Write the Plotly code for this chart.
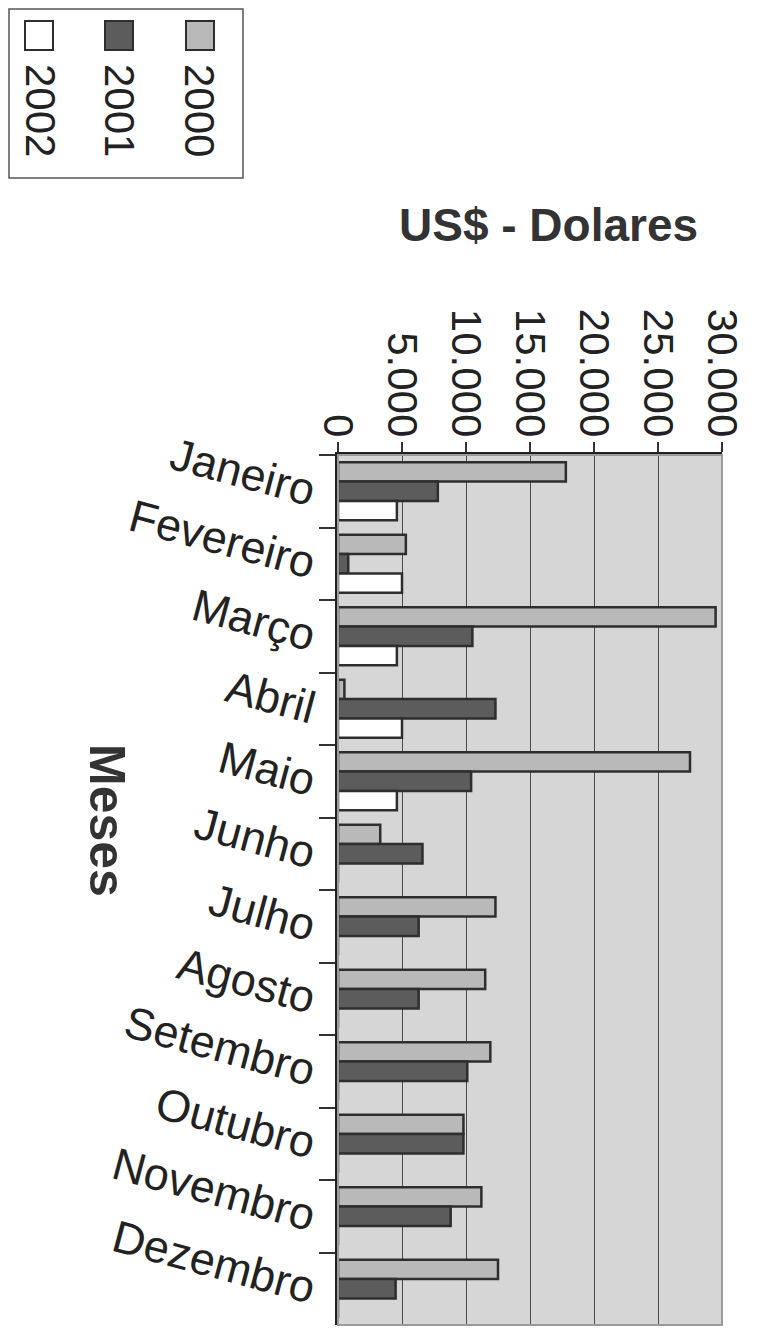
import plotly.graph_objects as go

months = ["Janeiro", "Fevereiro", "Março", "Abril", "Maio", "Junho", "Julho",
          "Agosto", "Setembro", "Outubro", "Novembro", "Dezembro"]
v2000 = [17800, 5300, 29500, 500, 27500, 3300, 12300, 11500, 11900, 9800, 11200, 12500]
v2001 = [7800, 800, 10500, 12300, 10400, 6600, 6300, 6300, 10100, 9800, 8800, 4500]
v2002 = [4600, 5000, 4600, 5000, 4600, 0, 0, 0, 0, 0, 0, 0]
series_names = ["2000", "2001", "2002"]
x_ticks = [0, 5000, 10000, 15000, 20000, 25000, 30000]

# page body has an 8px default margin; compensate so screen pixels match
OFF = 8
W, H = 757 - OFF, 1344 - OFF
L, R, T, B = 338, 722, 455, 1325  # target screen coords of plot area

def px(x):
    return (x - L) / (R - L)

def py(y):
    return (B - y) / (B - T)

FONT = "Liberation Sans, Arial, sans-serif"
colors = {"2000": "#b9b9b9", "2001": "#5c5c5c", "2002": "#ffffff"}
edge = "#2e2e2e"

fig = go.Figure()
for name, vals in zip(series_names, [v2000, v2001, v2002]):
    fig.add_trace(go.Bar(
        y=months, x=vals, orientation="h", name=name,
        marker=dict(color=colors[name], line=dict(color=edge, width=2.5)),
        showlegend=False,
    ))

shapes = []
annotations = []

shapes.append(dict(type="rect", xref="paper", yref="paper", x0=0, x1=1, y0=0, y1=1,
                   line=dict(color="#9a9a9a", width=2), layer="above"))

# legend box
shapes.append(dict(type="rect", xref="paper", yref="paper",
                   x0=px(OFF + 1), x1=px(243), y0=py(178), y1=py(OFF + 1),
                   line=dict(color="#555", width=1.5), fillcolor="white"))
leg = [("2002", 25, 41), ("2001", 105, 120), ("2000", 186, 200)]
for name, sx, tx in leg:
    shapes.append(dict(type="rect", xref="paper", yref="paper",
                       x0=px(sx), x1=px(sx + 28), y0=py(50), y1=py(21),
                       line=dict(color=edge, width=2), fillcolor=colors[name]))
    annotations.append(dict(xref="paper", yref="paper", x=px(tx), y=py(110),
                            text=name, showarrow=False, textangle=90,
                            font=dict(family=FONT, size=42, color="#222"),
                            xanchor="center", yanchor="middle"))

annotations.append(dict(xref="paper", yref="paper", x=px(548), y=py(225),
                        text="<b>US$ - Dolares</b>", showarrow=False,
                        font=dict(family=FONT, size=46, color="#333"),
                        xanchor="center", yanchor="middle"))
annotations.append(dict(xref="paper", yref="paper", x=px(107), y=py(820),
                        text="<b>Meses</b>", showarrow=False, textangle=90,
                        font=dict(family=FONT, size=50, color="#333"),
                        xanchor="center", yanchor="middle"))

fig.update_layout(
    width=W, height=H,
    margin=dict(l=L - OFF, r=W - (R - OFF), t=T - OFF, b=H - (B - OFF), pad=0),
    paper_bgcolor="white", plot_bgcolor="#d6d6d6",
    barmode="group", bargap=0.2, bargroupgap=0.0,
    separators=",.",
    shapes=shapes, annotations=annotations,
    showlegend=False,
)
fig.update_xaxes(
    side="top", range=[0, 30000], tickvals=x_ticks, tickformat=",",
    tickangle=90, tickfont=dict(family=FONT, size=42, color="#222"),
    ticks="outside", ticklen=10, tickcolor="#333", tickwidth=1.5,
    ticklabelstandoff=-10,
    showgrid=True, gridcolor="#4a4a4a", gridwidth=1.2,
    showline=True, linecolor="#222", linewidth=3, zeroline=False,
)
fig.update_yaxes(
    autorange="reversed", tickangle=15,
    tickfont=dict(family=FONT, size=45, color="#222"),
    ticks="outside", ticklen=16, tickcolor="#333", tickwidth=1.5, tickson="boundaries",
    ticklabelstandoff=10,
    showgrid=False, showline=True, linecolor="#222", linewidth=3,
)

fig.write_html("out.html")
